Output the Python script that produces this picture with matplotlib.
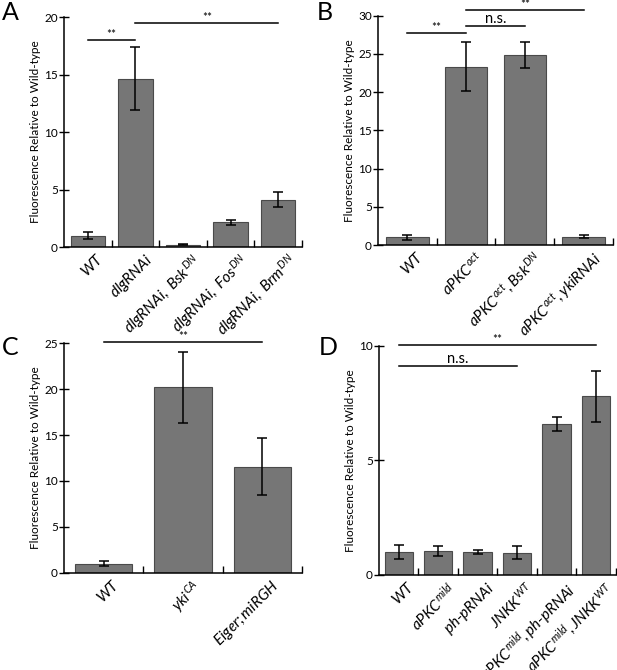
import matplotlib
matplotlib.use("Agg")
import matplotlib.pyplot as plt

FONT = 'Lato'
plt.rcParams['font.family'] = [FONT, 'DejaVu Sans']
plt.rcParams['mathtext.fontset'] = 'custom'
plt.rcParams['mathtext.rm'] = FONT
plt.rcParams['mathtext.it'] = FONT + ':italic'
plt.rcParams['mathtext.bf'] = FONT + ':bold'

# ---- data ----
a_labels = [r'$WT$', r'$dlgRNAi$', r'$dlgRNAi,\ Bsk^{DN}$', r'$dlgRNAi,\ Fos^{DN}$', r'$dlgRNAi,\ Brm^{DN}$']
a_values = [1.0, 14.65, 0.2, 2.15, 4.1]
a_errors = [0.33, 2.7, 0.05, 0.2, 0.65]
a_ticks = [0, 5, 10, 15, 20]

b_labels = [r'$WT$', r'$aPKC^{act}$', r'$aPKC^{act},Bsk^{DN}$', r'$aPKC^{act},ykiRNAi$']
b_values = [1.0, 23.3, 24.8, 1.1]
b_errors = [0.3, 3.2, 1.7, 0.15]
b_ticks = [0, 5, 10, 15, 20, 25, 30]

c_labels = [r'$WT$', r'$yki^{CA}$', r'$Eiger;miRGH$']
c_values = [1.0, 20.2, 11.55]
c_errors = [0.3, 3.9, 3.1]
c_ticks = [0, 5, 10, 15, 20, 25]

d_labels = [r'$WT$', r'$aPKC^{mild}$', r'$ph\text{-}pRNAi$', r'$JNKK^{WT}$',
            r'$aPKC^{mild},ph\text{-}pRNAi$', r'$aPKC^{mild},JNKK^{WT}$']
d_values = [1.0, 1.05, 1.0, 0.98, 6.6, 7.8]
d_errors = [0.32, 0.2, 0.08, 0.28, 0.3, 1.1]
d_ticks = [0, 5, 10]

# significance brackets: (i, j, y, text)
a_sig = [(0, 1, 18.0, '**'), (1, 4, 19.45, '**')]
b_sig = [(0, 1, 27.7, '**'), (1, 2, 28.65, 'n.s.'), (1, 3, 30.7, '**')]
c_sig = [(0, 2, 25.1, '**')]
d_sig = [(0, 3, 9.13, 'n.s.'), (0, 5, 10.04, '**')]

fig = plt.figure(figsize=(6.17, 6.70), dpi=100)

BAR = '#767676'
EDGE = '#4a4a4a'


def panel(rect, labels, values, errors, ticks, sig, letter, letter_pos):
    ax = fig.add_axes(rect)
    n = len(values)
    x = list(range(n))
    ax.bar(x, values, width=0.72, color=BAR, edgecolor=EDGE, linewidth=0.8, zorder=2)
    ax.errorbar(x, values, yerr=errors, fmt='none', ecolor='black', elinewidth=1.1,
                capsize=3.5, capthick=1.1, zorder=3)
    ax.set_xlim(-0.5, n - 0.5)
    ax.set_ylim(0, ticks[-1])
    ax.set_yticks(ticks)
    ax.set_yticklabels([str(t) for t in ticks], fontsize=8.5)
    ax.set_xticks([i + 0.5 for i in range(n)])
    ax.set_xticklabels([])
    ax.tick_params(axis='x', direction='in', length=5, width=1)
    ax.tick_params(axis='y', direction='inout', length=7, width=1, pad=1)
    for s in ['top', 'right']:
        ax.spines[s].set_visible(False)
    for s in ['left', 'bottom']:
        ax.spines[s].set_linewidth(1.1)
    ax.text(-0.12, 0.5, 'Fluorescence Relative to Wild-type', transform=ax.transAxes,
            rotation=90, ha='center', va='center', fontsize=8.5)
    for i, lab in enumerate(labels):
        ax.annotate(lab, xy=(i, 0), xycoords=('data', 'axes fraction'),
                    xytext=(6, -3), textcoords='offset points',
                    rotation=45, ha='right', va='top', rotation_mode='anchor',
                    fontsize=11)
    for (i, j, y, t) in sig:
        ax.plot([i, j], [y, y], color='black', lw=1.1, clip_on=False, zorder=4)
        ax.text((i + j) / 2, y, t, ha='center', va='bottom',
                fontsize=10.5 if t == 'n.s.' else 8.5, clip_on=False)
    fig.text(letter_pos[0], letter_pos[1], letter, fontsize=18, ha='left', va='top')
    return ax


panel([0.1037, 0.6313, 0.3858, 0.3433], a_labels, a_values, a_errors, a_ticks, a_sig,
      'A', (0.003, 0.998))
panel([0.6126, 0.6343, 0.3809, 0.3423], b_labels, b_values, b_errors, b_ticks, b_sig,
      'B', (0.513, 0.998))
panel([0.1037, 0.1452, 0.3858, 0.3424], c_labels, c_values, c_errors, c_ticks, c_sig,
      'C', (0.003, 0.498))
panel([0.6143, 0.1418, 0.3837, 0.3418], d_labels, d_values, d_errors, d_ticks, d_sig,
      'D', (0.517, 0.498))

fig.savefig('out.png', dpi=100)
